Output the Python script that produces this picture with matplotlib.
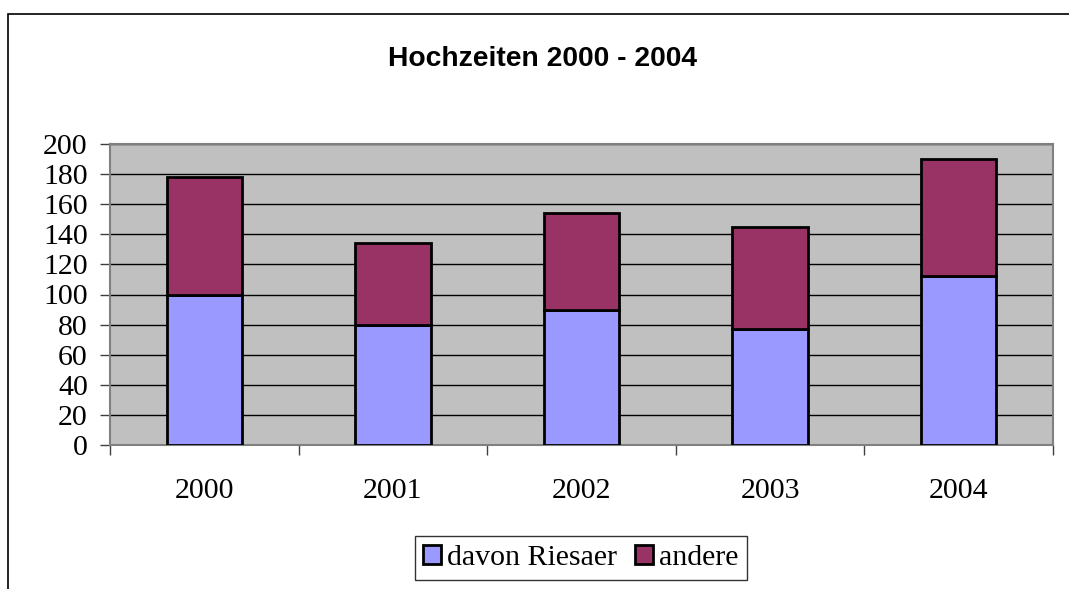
import numpy as np
import matplotlib.pyplot as plt
from matplotlib.patches import Rectangle

years = ['2000', '2001', '2002', '2003', '2004']
riesaer = [100, 80, 90, 77, 112]
andere = [78, 54, 64, 68, 78]
y_ticks = [0, 20, 40, 60, 80, 100, 120, 140, 160, 180, 200]

W, H = 1069, 589
fig = plt.figure(figsize=(W / 100, H / 100), dpi=100)
fig.patch.set_facecolor('white')

# outer chart frame (right and bottom edges fall outside the image)
fig.patches.append(Rectangle((8 / W, -0.1), 1.2, (589 - 14) / H + 0.1,
                             transform=fig.transFigure, fill=False,
                             edgecolor='black', linewidth=1.2))

ax = fig.add_axes([110 / W, (589 - 445) / H, (1053 - 110) / W, (445 - 144) / H])
ax.set_facecolor('#C0C0C0')

index = np.arange(len(years))
bar_width = 0.4

ax.bar(index, riesaer, bar_width, color='#9999FF', edgecolor='black',
       linewidth=2.0, label='davon Riesaer', zorder=3)
ax.bar(index, andere, bar_width, bottom=riesaer, color='#993366',
       edgecolor='black', linewidth=2.0, label='andere', zorder=3)

ax.set_xlim(-0.5, len(years) - 0.5)
ax.set_ylim(0, 200)
ax.set_yticks(y_ticks)
ax.yaxis.grid(True, color='black', linewidth=1.0, zorder=1)
ax.set_axisbelow(True)

ax.set_xticks(index)
ax.set_xticklabels(years)
ax.set_xticks(np.arange(len(years) + 1) - 0.5, minor=True)
ax.tick_params(axis='x', which='major', length=0, pad=24)
ax.tick_params(axis='x', which='minor', length=7, width=1, color='#404040', direction='out')
ax.tick_params(axis='y', length=7, width=1, color='#404040', direction='out', pad=9)

for lab in ax.get_xticklabels() + ax.get_yticklabels():
    lab.set_fontfamily('Liberation Serif')
    lab.set_fontsize(21.5)

for s in ax.spines.values():
    s.set_color('#808080')
    s.set_linewidth(1.5)

fig.text(542 / W, 1 - 59 / H, 'Hochzeiten 2000 - 2004', ha='center', va='center',
         fontfamily='Liberation Sans', fontweight='bold', fontsize=20.3)

leg = fig.legend(loc='center', bbox_to_anchor=(581 / W, 1 - 558 / H), ncol=2,
                 prop={'family': 'Liberation Serif', 'size': 21.5},
                 frameon=True, fancybox=False, edgecolor='black',
                 handlelength=0.6, handleheight=0.6, handletextpad=0.2,
                 columnspacing=0.6, borderpad=0.3)
leg.get_frame().set_linewidth(1.0)

fig.savefig('out.png', dpi=100)
